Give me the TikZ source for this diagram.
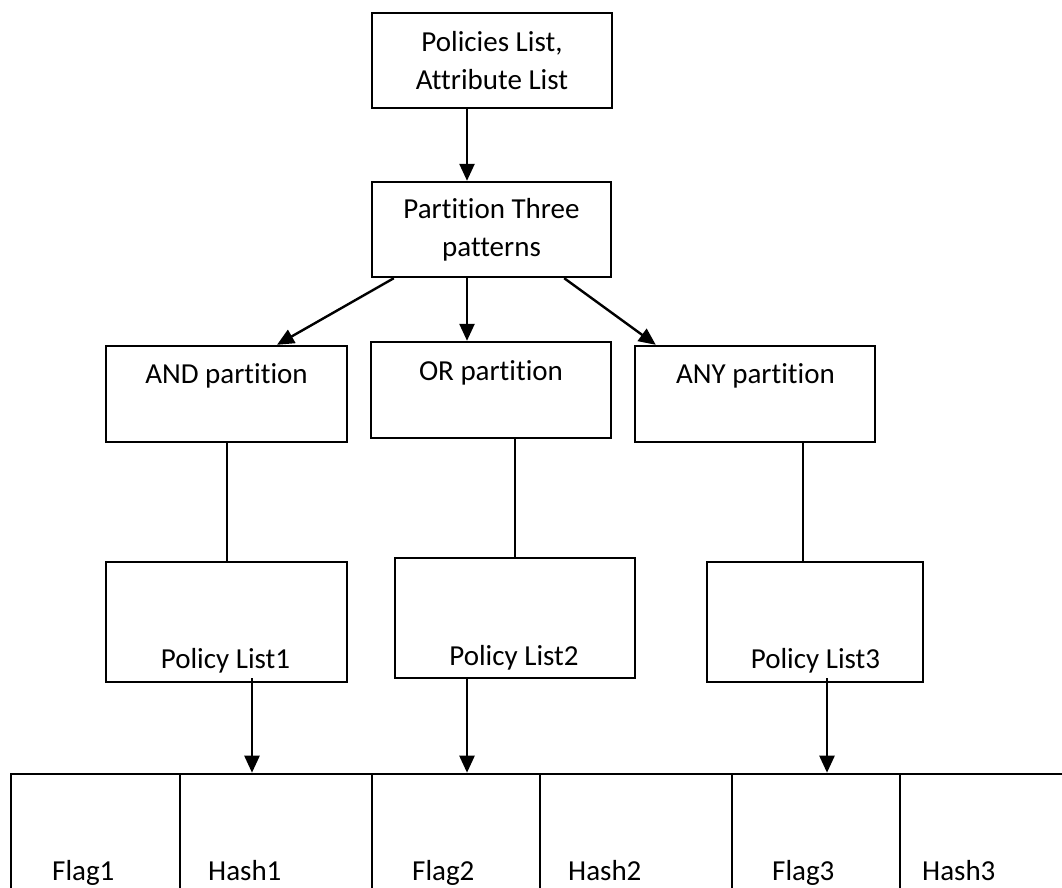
\documentclass[tikz,border=0pt]{standalone}
\usepackage{fontspec}
\setmainfont{Carlito}[RawFeature={-liga;-clig;-rlig;-calt;-dlig}]
\usetikzlibrary{arrows.meta}
\begin{document}
\begin{tikzpicture}[x=1pt,y=-1pt,
  every node/.style={font=\fontsize{29}{38}\selectfont},
  box/.style={draw,line width=2.4pt,inner sep=0pt,align=center},
  cellbox/.style={draw,line width=2.6pt,inner sep=0pt,minimum height=136pt},
  txt/.style={inner sep=0pt,anchor=base},
  ctxt/.style={inner sep=0pt,anchor=base west},
  arr/.style={line width=2.4pt,-{Triangle[length=17pt,width=15pt]}},
  plain/.style={line width=2pt}]
\fill[white] (0,0) rectangle (1062,888);
\path[use as bounding box] (0,0) rectangle (1062,888);
\clip (0,0) rectangle (1062,888);

% boxes
\node[box,minimum width=240pt,minimum height=95pt] (top) at (492,60.5) {Policies List,\\Attribute List};
\node[box,minimum width=239pt,minimum height=95pt] (part) at (491.5,229.5) {Partit\kern0pt ion Three\\patterns};
\node[box,minimum width=241pt,minimum height=96pt] (and) at (226.5,394) {};
\node[box,minimum width=240pt,minimum height=96pt] (or) at (491,390) {};
\node[box,minimum width=240pt,minimum height=96pt] (any) at (755,394) {};
\node[txt] (andt) at (226.5,383) {AND partit\kern0pt ion};
\node[txt] (ort) at (491,380) {OR partit\kern0pt ion};
\node[txt] (anyt) at (755.5,383) {ANY partit\kern0pt ion};

\node[box,minimum width=241pt,minimum height=120pt] (pl1) at (226.5,622) {};
\node[box,minimum width=240pt,minimum height=120pt] (pl2) at (515,618) {};
\node[box,minimum width=216pt,minimum height=120pt] (pl3) at (815,622) {};
\node[txt] (pl1t) at (225.5,668) {Policy List1};
\node[txt] (pl2t) at (514,665) {Policy List2};
\node[txt] (pl3t) at (815.5,668) {Policy List3};

% bottom row
\node[cellbox,minimum width=169pt] (c1) at (95.5,842) {};
\node[cellbox,minimum width=192pt] (c2) at (276,842) {};
\node[cellbox,minimum width=168pt] (c3) at (456,842) {};
\node[cellbox,minimum width=192pt] (c4) at (636,842) {};
\node[cellbox,minimum width=168pt] (c5) at (816,842) {};
\node[cellbox,minimum width=190pt] (c6) at (995,842) {};
\node[ctxt] (f1) at (52,880) {Flag1};
\node[ctxt] (h1) at (208,880) {Hash1};
\node[ctxt] (f2) at (412,880) {Flag2};
\node[ctxt] (h2) at (568,880) {Hash2};
\node[ctxt] (f3) at (772,880) {Flag3};
\node[ctxt] (h3) at (922,880) {Hash3};

% connectors
\draw[arr] ([xshift=-25pt]top.south) -- ([xshift=-25pt]top.south |- part.north);
\draw[arr] ([xshift=23pt]part.south west) -- ([xshift=50.5pt]and.north);
\draw[arr] ([xshift=-24.5pt]part.south) -- ([xshift=-24.5pt]part.south |- or.north);
\draw[arr] ([xshift=-48pt]part.south east) -- ([xshift=22pt]any.north west);

\draw[plain] (and.south) -- (pl1.north);
\draw[plain] (or.south -| pl2.north) -- (pl2.north);
\draw[plain] ([xshift=48pt]any.south) -- ([xshift=48pt]any.south |- pl3.north);

\draw[arr] ([xshift=25.5pt,yshift=5pt]pl1.south) -- ([xshift=25.5pt]pl1.south |- c2.north);
\draw[arr] ([xshift=-48pt,yshift=2pt]pl2.south) -- ([xshift=-48pt]pl2.south |- c3.north);
\draw[arr] ([xshift=12pt,yshift=5pt]pl3.south) -- ([xshift=12pt]pl3.south |- c5.north);
\end{tikzpicture}
\end{document}
